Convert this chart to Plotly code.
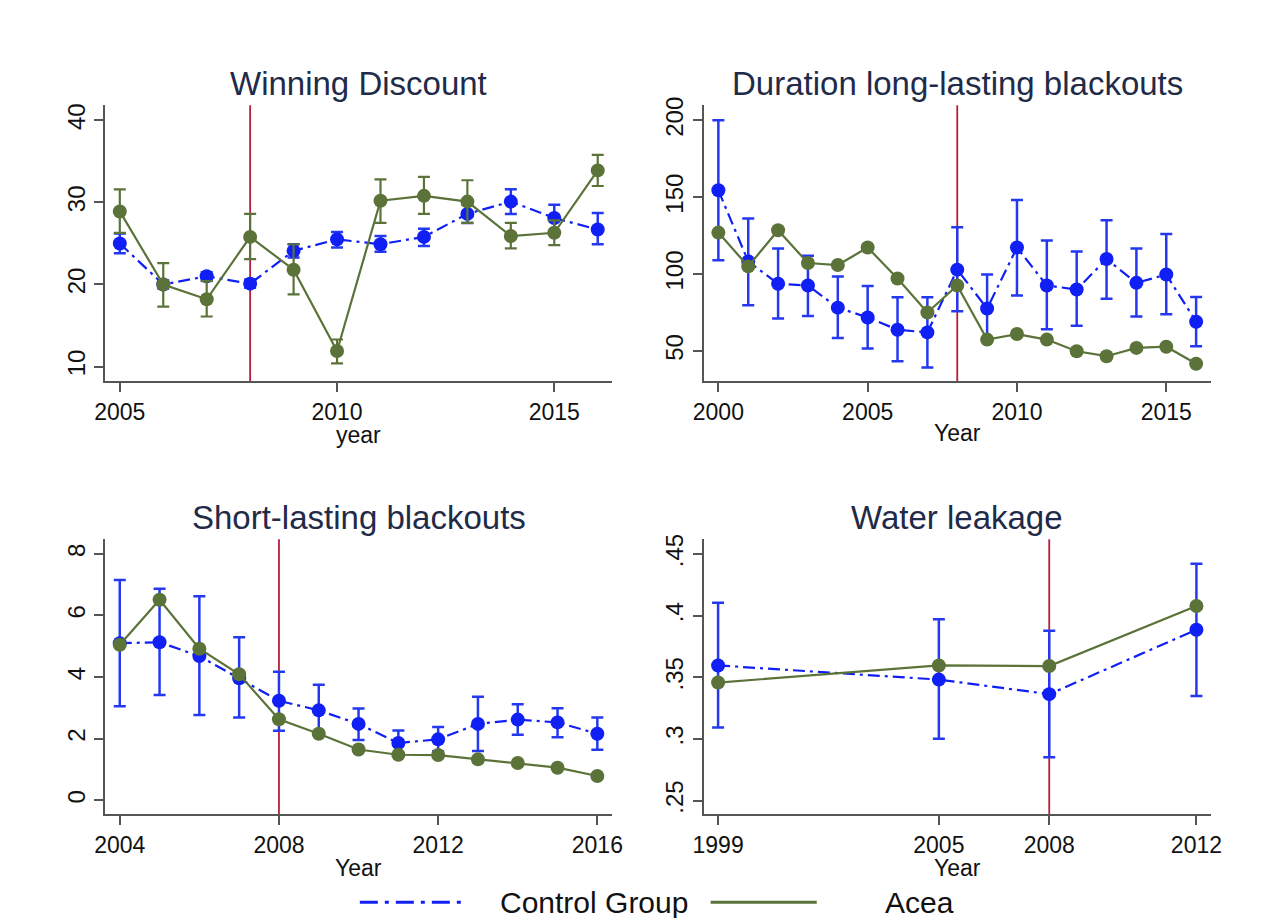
import plotly.graph_objects as go

# ---------------- data ----------------
treatment_year = 2008

wd_years = [2005, 2006, 2007, 2008, 2009, 2010, 2011, 2012, 2013, 2014, 2015, 2016]
wd_ctrl = [25.0, 20.0, 21.0, 20.1, 24.1, 25.5, 24.9, 25.8, 28.6, 30.1, 28.1, 26.7]
wd_ctrl_lo = [23.8, 19.5, 20.5, 19.6, 23.3, 24.5, 24.0, 24.7, 27.5, 28.6, 26.5, 24.9]
wd_ctrl_hi = [26.2, 20.5, 21.5, 20.6, 24.9, 26.4, 25.9, 26.8, 29.7, 31.6, 29.7, 28.7]
wd_acea = [28.9, 20.0, 18.2, 25.8, 21.8, 11.9, 30.2, 30.8, 30.1, 25.9, 26.3, 33.9]
wd_acea_lo = [26.3, 17.3, 16.1, 23.1, 18.8, 10.4, 27.5, 28.6, 27.5, 24.4, 24.8, 32.0]
wd_acea_hi = [31.6, 22.6, 20.4, 28.6, 24.9, 13.3, 32.8, 33.1, 32.7, 27.5, 27.8, 35.8]

dl_years = [2000, 2001, 2002, 2003, 2004, 2005, 2006, 2007, 2008,
            2009, 2010, 2011, 2012, 2013, 2014, 2015, 2016]
dl_ctrl = [154.5, 108.3, 93.7, 92.6, 78.2, 71.8, 63.8, 62.1, 102.9,
           77.6, 117.3, 92.6, 90.0, 109.8, 94.3, 99.7, 69.0]
dl_ctrl_lo = [109.0, 79.7, 71.1, 72.8, 58.4, 51.6, 43.4, 39.3, 75.8,
              56.1, 86.1, 64.2, 66.4, 84.0, 72.4, 73.9, 53.1]
dl_ctrl_hi = [200.0, 136.2, 116.6, 111.9, 98.4, 92.2, 84.9, 84.9, 130.4,
              99.7, 148.2, 121.8, 114.7, 135.1, 116.6, 126.1, 85.1]
dl_acea = [127.0, 105.0, 128.5, 107.2, 105.9, 117.3, 97.1, 75.0, 92.6,
           57.4, 61.0, 57.4, 49.8, 46.6, 52.0, 52.8, 41.7]

sl_years = [2004, 2005, 2006, 2007, 2008, 2009, 2010, 2011, 2012, 2013, 2014, 2015, 2016]
sl_ctrl = [5.10, 5.13, 4.68, 3.96, 3.23, 2.92, 2.48, 1.86, 1.98, 2.48, 2.62, 2.53, 2.16]
sl_ctrl_lo = [3.05, 3.42, 2.77, 2.69, 2.26, 2.13, 1.96, 1.52, 1.59, 1.60, 2.13, 2.05, 1.64]
sl_ctrl_hi = [7.15, 6.87, 6.62, 5.29, 4.17, 3.75, 2.98, 2.27, 2.38, 3.36, 3.12, 2.99, 2.69]
sl_acea = [5.05, 6.51, 4.92, 4.09, 2.63, 2.16, 1.65, 1.48, 1.47, 1.33, 1.21, 1.06, 0.79]

wl_years = [1999, 2005, 2008, 2012]
wl_ctrl = [0.3597, 0.3482, 0.3364, 0.3886]
wl_ctrl_lo = [0.3093, 0.3002, 0.2852, 0.3350]
wl_ctrl_hi = [0.4106, 0.3972, 0.3878, 0.4422]
wl_acea = [0.3458, 0.3597, 0.3592, 0.4079]

panel_titles = ["Winning Discount", "Duration long-lasting blackouts",
                "Short-lasting blackouts", "Water leakage"]
axis_titles = ["year", "Year", "Year", "Year"]
series_names = ["Control Group", "Acea"]

wd_xticks = [2005, 2010, 2015]
wd_yticks = [10, 20, 30, 40]
dl_xticks = [2000, 2005, 2010, 2015]
dl_yticks = [50, 100, 150, 200]
sl_xticks = [2004, 2008, 2012, 2016]
sl_yticks = [0, 2, 4, 6, 8]
wl_xticks = [1999, 2005, 2008, 2012]
wl_yticks = [0.25, 0.30, 0.35, 0.40, 0.45]
wl_yticktext = [".25", ".3", ".35", ".4", ".45"]

# ---------------- style ----------------
W, H = 1265, 918
FONT = "Liberation Sans, Arial, sans-serif"
BLUE = "#1020f5"
BLUE_ERR = "#2438f2"
GREEN = "#5b7339"
RED = "#b41e3c"
AXIS = "#555555"
TITLE_COL = "#1f2b48"
CTRL_DASH = "12px,5px,3px,5px"


def px_x(p):
    return p / W


def px_y(p):
    return 1 - p / H


# panel geometry in pixels (left, right, top, bottom)
panels = [
    (95.7, 611.7, 98.0, 376.7),
    (705.0, 1221.0, 98.0, 376.7),
    (95.7, 611.7, 536.0, 813.3),
    (705.0, 1221.0, 536.0, 813.3),
]
x_ranges = [[2004.66, 2016.33], [1999.51, 2016.49], [2003.63, 2016.37], [1998.61, 2012.39]]
y_ranges = [[8.19, 41.85], [30.2, 209.9], [-0.45, 8.47], [0.239, 0.462]]
title_y = [76, 76, 514, 514]
axtitle_y = [431, 429, 868, 868]

fig = go.Figure()


def err(vals, lo, hi, color, thick):
    return dict(type="data", symmetric=False,
                array=[h - v for v, h in zip(vals, hi)],
                arrayminus=[v - l for v, l in zip(vals, lo)],
                color=color, thickness=thick, width=6)


datasets = [
    (wd_years, wd_ctrl, wd_ctrl_lo, wd_ctrl_hi, wd_acea, wd_acea_lo, wd_acea_hi),
    (dl_years, dl_ctrl, dl_ctrl_lo, dl_ctrl_hi, dl_acea, None, None),
    (sl_years, sl_ctrl, sl_ctrl_lo, sl_ctrl_hi, sl_acea, None, None),
    (wl_years, wl_ctrl, wl_ctrl_lo, wl_ctrl_hi, wl_acea, None, None),
]

for i, (yrs, c, clo, chi, a, alo, ahi) in enumerate(datasets):
    sfx = "" if i == 0 else str(i + 1)
    fig.add_trace(go.Scatter(
        x=yrs, y=c, mode="lines+markers", name=series_names[0],
        line=dict(color=BLUE, width=2.2, dash=CTRL_DASH),
        marker=dict(color=BLUE, size=14),
        error_y=err(c, clo, chi, BLUE_ERR, 2.5), xaxis="x" + sfx, yaxis="y" + sfx,
        showlegend=False))
    g = dict(x=yrs, y=a, mode="lines+markers", name=series_names[1],
             line=dict(color=GREEN, width=2.2),
             marker=dict(color=GREEN, size=14),
             xaxis="x" + sfx, yaxis="y" + sfx, showlegend=False)
    if alo is not None:
        g["error_y"] = err(a, alo, ahi, GREEN, 2.2)
    fig.add_trace(go.Scatter(**g))

xticks = [wd_xticks, dl_xticks, sl_xticks, wl_xticks]
yticks = [wd_yticks, dl_yticks, sl_yticks, wl_yticks]
yticktext = [[str(v) for v in wd_yticks], [str(v) for v in dl_yticks],
             [str(v) for v in sl_yticks], wl_yticktext]

layout = dict(
    width=W, height=H, margin=dict(l=0, r=0, t=0, b=0),
    paper_bgcolor="white", plot_bgcolor="white",
    font=dict(family=FONT, color="#111111"),
    showlegend=False,
)
annotations = []
shapes = []
for i in range(4):
    sfx = "" if i == 0 else str(i + 1)
    l, r, t, b = panels[i]
    layout["xaxis" + sfx] = dict(
        domain=[px_x(l), px_x(r)], range=x_ranges[i], anchor="y" + sfx,
        showgrid=False, zeroline=False, showline=True, linecolor=AXIS, linewidth=1.6,
        ticks="outside", ticklen=9, tickwidth=1.6, tickcolor=AXIS,
        tickvals=xticks[i], ticktext=[str(v) for v in xticks[i]],
        tickfont=dict(size=23, family=FONT, color="#111111"))
    layout["yaxis" + sfx] = dict(
        domain=[px_y(b), px_y(t)], range=y_ranges[i], anchor="x" + sfx,
        showgrid=False, zeroline=False, showline=True, linecolor=AXIS, linewidth=1.6,
        ticks="outside", ticklen=9, tickwidth=1.6, tickcolor=AXIS,
        tickvals=yticks[i], ticktext=yticktext[i], tickangle=-90,
        tickfont=dict(size=24, family=FONT, color="#111111"))
    shapes.append(dict(type="line", xref="x" + sfx, yref="y" + sfx + " domain",
                       x0=treatment_year, x1=treatment_year, y0=0, y1=1,
                       line=dict(color=RED, width=1.8), layer="below"))
    annotations.append(dict(text=panel_titles[i], xref="paper", yref="paper",
                            x=px_x((l + r) / 2), y=px_y(title_y[i]),
                            xanchor="center", yanchor="middle", showarrow=False,
                            font=dict(size=33, family=FONT, color=TITLE_COL)))
    annotations.append(dict(text=axis_titles[i], xref="paper", yref="paper",
                            x=px_x((l + r) / 2), y=px_y(axtitle_y[i]),
                            xanchor="center", yanchor="middle", showarrow=False,
                            font=dict(size=23, family=FONT, color="#111111")))

# legend (drawn as layout decoration)
leg_y = px_y(902)
shapes.append(dict(type="line", xref="paper", yref="paper",
                   x0=px_x(355), x1=px_x(463), y0=leg_y, y1=leg_y,
                   line=dict(color=BLUE, width=3, dash="18px,7px,4px,7px")))
shapes.append(dict(type="line", xref="paper", yref="paper",
                   x0=px_x(712), x1=px_x(820), y0=leg_y, y1=leg_y,
                   line=dict(color=GREEN, width=3)))
annotations.append(dict(text=series_names[0], xref="paper", yref="paper",
                        x=px_x(496), y=leg_y, xanchor="left", yanchor="middle",
                        showarrow=False, font=dict(size=30, family=FONT, color="#111111")))
annotations.append(dict(text=series_names[1], xref="paper", yref="paper",
                        x=px_x(887), y=leg_y, xanchor="left", yanchor="middle",
                        showarrow=False, font=dict(size=30, family=FONT, color="#111111")))

layout["annotations"] = annotations
layout["shapes"] = shapes
fig.update_layout(**layout)

fig.write_html("out.html", config={"displayModeBar": False},
               post_script="document.body.style.margin='0';document.body.style.overflow='hidden';")
